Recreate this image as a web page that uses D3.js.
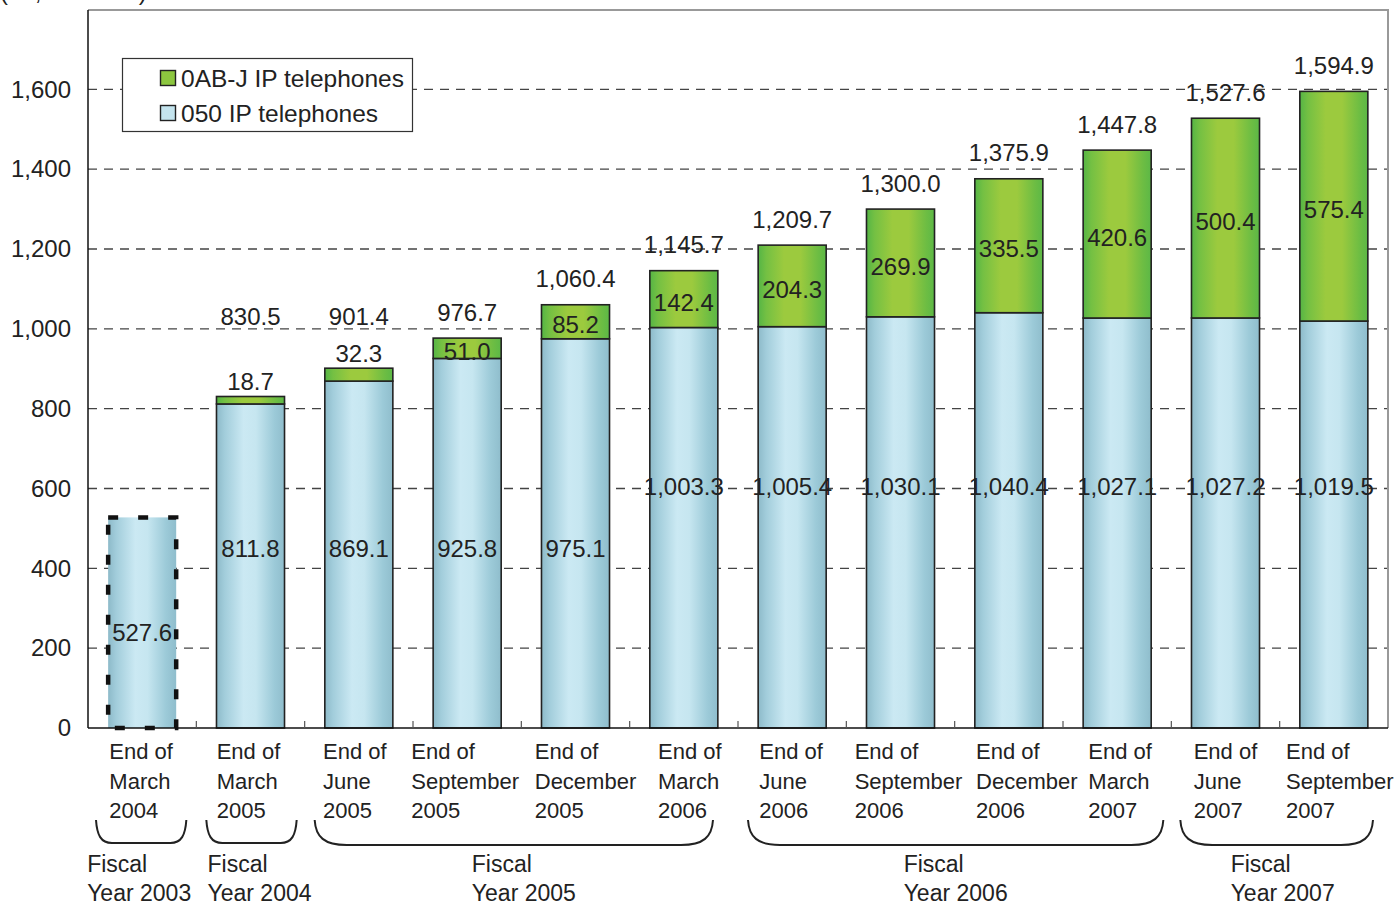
<!DOCTYPE html>
<html>
<head>
<meta charset="utf-8">
<script src="https://cdn.jsdelivr.net/npm/d3@7/dist/d3.min.js"></script>
<style>
  html, body { margin: 0; padding: 0; background: #fff; }
  svg { display: block; font-family: "Liberation Sans", Arial, Helvetica, sans-serif; }
</style>
</head>
<body>
<svg id="chart" width="1400" height="904"></svg>
<script>
// ---------- data ----------
const categories = [
  ["End of", "March", "2004"],
  ["End of", "March", "2005"],
  ["End of", "June", "2005"],
  ["End of", "September", "2005"],
  ["End of", "December", "2005"],
  ["End of", "March", "2006"],
  ["End of", "June", "2006"],
  ["End of", "September", "2006"],
  ["End of", "December", "2006"],
  ["End of", "March", "2007"],
  ["End of", "June", "2007"],
  ["End of", "September", "2007"]
];
const ip050 = [527.6, 811.8, 869.1, 925.8, 975.1, 1003.3, 1005.4, 1030.1, 1040.4, 1027.1, 1027.2, 1019.5];
const ip0abj = [0, 18.7, 32.3, 51.0, 85.2, 142.4, 204.3, 269.9, 335.5, 420.6, 500.4, 575.4];
const totals = [null, 830.5, 901.4, 976.7, 1060.4, 1145.7, 1209.7, 1300.0, 1375.9, 1447.8, 1527.6, 1594.9];
const yTicks = [0, 200, 400, 600, 800, 1000, 1200, 1400, 1600];
const fiscalLabels = [["Fiscal", "Year 2003"], ["Fiscal", "Year 2004"], ["Fiscal", "Year 2005"], ["Fiscal", "Year 2006"], ["Fiscal", "Year 2007"]];
const fiscalStart = [0, 1, 2, 6, 10];
const fiscalEnd = [0, 1, 5, 9, 11];
const seriesNames = ["0AB-J IP telephones", "050 IP telephones"];
const unitLabel = "(10,000 units)";

// ---------- layout ----------
const svg = d3.select("#chart");
const pLeft = 88, pRight = 1388, pTop = 10, pBottom = 728;
const fmt = d3.format(",.1f");
const textColor = "#222";

const x = d3.scaleBand().domain(d3.range(categories.length)).range([pLeft, pRight]).paddingInner(0.372).paddingOuter(0.186);
const y = d3.scaleLinear().domain([0, 1800]).range([pBottom, pTop - 0.5]);

// gradients
const defs = svg.append("defs");
function grad(id, stops) {
  const g = defs.append("linearGradient").attr("id", id).attr("x1", "0%").attr("x2", "100%").attr("y1", "0%").attr("y2", "0%");
  stops.forEach(s => g.append("stop").attr("offset", s[0]).attr("stop-color", s[1]));
}
grad("gBlue", [["0%", "#8dbac9"], ["12%", "#a2cddb"], ["40%", "#cbe9f3"], ["58%", "#c6e6f0"], ["85%", "#9ccad8"], ["100%", "#8fbdcc"]]);
grad("gGreen", [["0%", "#55b545"], ["12%", "#74c043"], ["38%", "#9cca3e"], ["62%", "#9cca3e"], ["88%", "#6dbd43"], ["100%", "#5cb846"]]);

// unit label (clipped at top, as in the original)
svg.append("text").attr("x", 0).attr("y", 0).attr("font-size", 24).attr("fill", textColor).text(unitLabel);

// gridlines
svg.append("g").selectAll("line").data(yTicks.filter(d => d > 0)).join("line")
  .attr("x1", pLeft).attr("x2", pRight)
  .attr("y1", d => y(d)).attr("y2", d => y(d))
  .attr("stroke", "#444").attr("stroke-width", 1.3).attr("stroke-dasharray", "9,7");

// frame top/right
svg.append("path").attr("d", `M${pLeft},${pTop}H${pRight}V${pBottom}`).attr("fill", "none").attr("stroke", "#999").attr("stroke-width", 2);

// y axis
const yAxis = d3.axisLeft(y).tickValues(yTicks).tickSize(0).tickPadding(17).tickFormat(d3.format(","));
const yg = svg.append("g").attr("transform", `translate(${pLeft},0)`).call(yAxis);
yg.select(".domain").remove();
yg.selectAll("text").attr("font-size", 24).attr("fill", textColor).attr("font-family", "Liberation Sans, Arial, sans-serif");
svg.append("line").attr("x1", pLeft).attr("x2", pLeft).attr("y1", pTop).attr("y2", pBottom).attr("stroke", "#111").attr("stroke-width", 1.5);

// bars
const bw = x.bandwidth();
const bars = svg.append("g");
categories.forEach((c, i) => {
  const x0 = x(i);
  const yb = y(ip050[i]);
  if (i === 0) {
    bars.append("rect").attr("x", x0).attr("y", yb).attr("width", bw).attr("height", pBottom - yb).attr("fill", "url(#gBlue)");
    bars.append("rect").attr("x", x0).attr("y", yb).attr("width", bw).attr("height", pBottom - yb)
      .attr("fill", "none").attr("stroke", "#111").attr("stroke-width", 4.5).attr("stroke-dasharray", "10,20");
  } else {
    bars.append("rect").attr("x", x0).attr("y", yb).attr("width", bw).attr("height", pBottom - yb)
      .attr("fill", "url(#gBlue)").attr("stroke", "#222").attr("stroke-width", 1.6);
    const yg2 = y(ip050[i] + ip0abj[i]);
    bars.append("rect").attr("x", x0).attr("y", yg2).attr("width", bw).attr("height", yb - yg2)
      .attr("fill", "url(#gGreen)").attr("stroke", "#222").attr("stroke-width", 1.6);
  }
});

// bottom axis line + band ticks
svg.append("line").attr("x1", pLeft).attr("x2", pRight).attr("y1", pBottom).attr("y2", pBottom).attr("stroke", "#111").attr("stroke-width", 1.5);
svg.append("g").selectAll("line").data(d3.range(1, categories.length)).join("line")
  .attr("x1", i => pLeft + i * x.step()).attr("x2", i => pLeft + i * x.step())
  .attr("y1", pBottom).attr("y2", pBottom - 7).attr("stroke", "#555").attr("stroke-width", 1.2);

// value labels
const labels = svg.append("g").attr("font-size", 24).attr("fill", textColor).attr("text-anchor", "middle");
categories.forEach((c, i) => {
  const cx = x(i) + bw / 2;
  const v = ip050[i];
  const pos = v >= 1000 ? 605 : (v < 600 ? v * 0.455 : 450);
  labels.append("text").attr("x", cx).attr("y", y(pos)).attr("dy", "0.36em").text(fmt(v));
  if (i > 0) {
    const yb = y(v), yt = y(v + ip0abj[i]);
    const h = yb - yt;
    const gy = h >= 18 ? (yb + yt) / 2 + 3 : yt - 15;
    labels.append("text").attr("x", cx).attr("y", gy).attr("dy", "0.36em").text(fmt(ip0abj[i]));
    const ty = Math.min(yt - 26, y(1000) - 12);
    labels.append("text").attr("x", cx).attr("y", ty).attr("dy", "0.36em").text(fmt(totals[i]));
  }
});

// category labels (left aligned block centred on bar, with small nudges as in the original)
const catShift = [-1, -2, -4, -2, 10, 6, -1, 8, 18, 3, 0, 6];
const cat = svg.append("g").attr("font-size", 22).attr("fill", textColor);
categories.forEach((lines, i) => {
  const cx = x(i) + bw / 2 + catShift[i];
  const t = cat.append("text").attr("y", 0);
  lines.forEach((l, k) => t.append("tspan").attr("y", 759 + k * 29.5).text(l));
  const spans = t.selectAll("tspan").nodes();
  const w = d3.max(spans, n => n.getComputedTextLength());
  t.selectAll("tspan").attr("x", cx - w / 2);
});

// braces and fiscal labels
const braceInsetL = [8, 10, 10, 10, 9];
const braceInsetR = [10, 8, 25, 8, 15];
const fiscalShift = [-2, 8, 10, 0, 6];
const br = svg.append("g");
fiscalLabels.forEach((lab, j) => {
  const x0 = x(fiscalStart[j]) - x.step() * x.paddingInner() / 2 + braceInsetL[j];
  const x1 = x(fiscalEnd[j]) + bw + x.step() * x.paddingInner() / 2 - braceInsetR[j];
  const wide = x1 - x0 > 150;
  const r = wide ? 32 : 16;
  const yTop = 820, yBot = wide ? 845 : 843;
  const d = `M${x0},${yTop} C${x0 + 1},${yBot - 8} ${x0 + r * 0.3},${yBot} ${x0 + r},${yBot} L${x1 - r},${yBot} C${x1 - r * 0.3},${yBot} ${x1 - 1},${yBot - 8} ${x1},${yTop}`;
  br.append("path").attr("d", d).attr("fill", "none").attr("stroke", "#222").attr("stroke-width", 2);
  const cx = (x0 + x1) / 2 + fiscalShift[j];
  const t = br.append("text").attr("font-size", 23).attr("fill", textColor);
  lab.forEach((l, k) => t.append("tspan").attr("y", 872 + k * 28.5).text(l));
  const w = d3.max(t.selectAll("tspan").nodes(), n => n.getComputedTextLength());
  t.selectAll("tspan").attr("x", cx - w / 2);
});

// legend
const lg = svg.append("g");
lg.append("rect").attr("x", 122.5).attr("y", 58.5).attr("width", 290).attr("height", 73).attr("fill", "#fff").attr("stroke", "#333").attr("stroke-width", 1.2);
const lgFills = ["#8cc63f", "#c4e4ee"];
seriesNames.forEach((s, k) => {
  const yy = 70 + k * 35;
  lg.append("rect").attr("x", 160.5).attr("y", yy + 0.5).attr("width", 15).attr("height", 15).attr("fill", lgFills[k]).attr("stroke", "#222").attr("stroke-width", 1.4);
  lg.append("text").attr("x", 181).attr("y", yy + 17).attr("font-size", 24.5).attr("fill", textColor).text(s);
});
</script>
</body>
</html>
